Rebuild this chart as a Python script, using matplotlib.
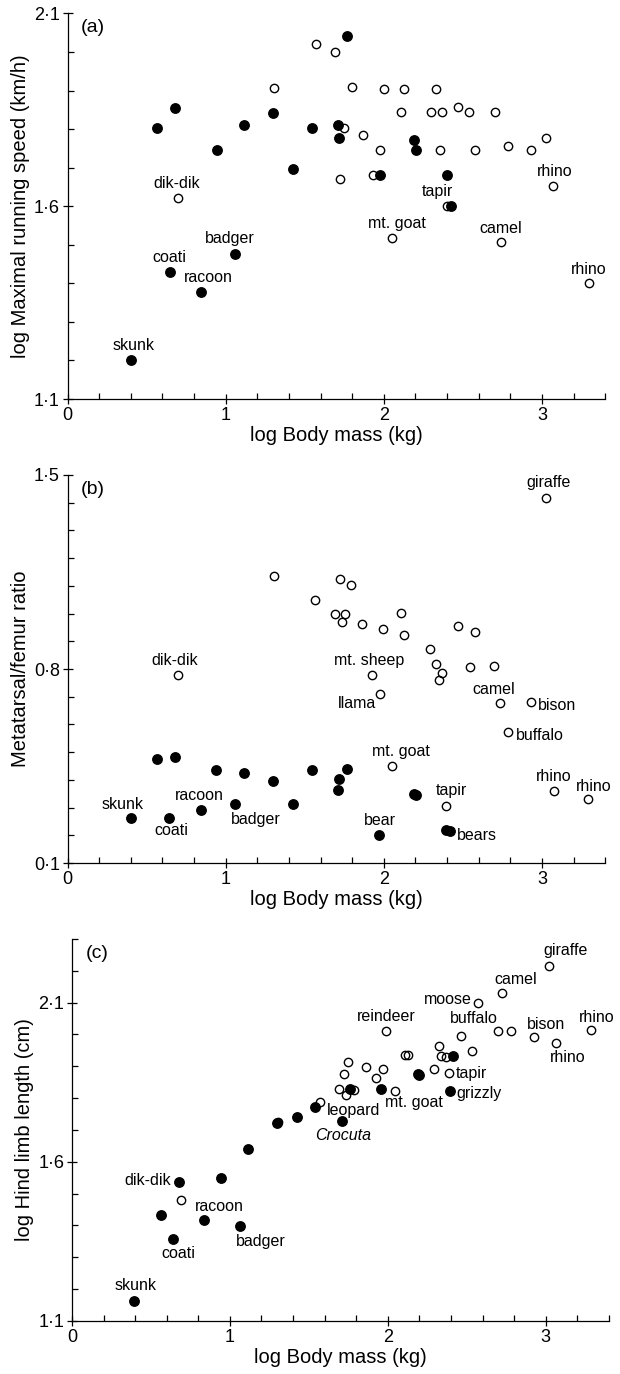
import matplotlib
matplotlib.use('Agg')
import matplotlib.pyplot as plt
from matplotlib.ticker import MultipleLocator, FixedLocator, FuncFormatter

plt.rcParams['font.family'] = ['Liberation Sans', 'DejaVu Sans']

# ---------------- data: panel (a) running speed ----------------
a_fill_x = [0.402, 0.566, 0.645, 0.679, 0.844, 0.943, 1.062, 1.119, 1.299, 1.428,
            1.545, 1.710, 1.719, 1.766, 1.974, 2.190, 2.206, 2.398, 2.425]
a_fill_y = [1.202, 1.804, 1.430, 1.855, 1.378, 1.745, 1.476, 1.810, 1.843, 1.696,
            1.804, 1.811, 1.776, 2.042, 1.681, 1.771, 1.747, 1.681, 1.601]
a_open_x = [0.699, 1.308, 1.572, 1.694, 1.726, 1.748, 1.796, 1.868, 1.929, 1.978,
            1.999, 2.055, 2.111, 2.129, 2.296, 2.330, 2.353, 2.369, 2.398, 2.472,
            2.540, 2.578, 2.702, 2.739, 2.788, 2.933, 3.027, 3.072, 3.298]
a_open_y = [1.622, 1.907, 2.020, 2.000, 1.670, 1.804, 1.908, 1.784, 1.681, 1.747,
            1.903, 1.518, 1.845, 1.903, 1.845, 1.903, 1.747, 1.845, 1.601, 1.858,
            1.845, 1.747, 1.845, 1.506, 1.757, 1.747, 1.778, 1.653, 1.400]
a_labels = ['skunk', 'coati', 'racoon', 'badger', 'dik-dik', 'mt. goat', 'tapir',
            'camel', 'rhino', 'rhino']
a_label_set = ['f', 'f', 'f', 'f', 'o', 'o', 'o', 'o', 'o', 'o']
a_label_idx = [0, 2, 4, 6, 0, 11, 18, 23, 27, 28]

# ---------------- data: panel (b) metatarsal/femur ----------------
b_fill_x = [0.399, 0.563, 0.644, 0.680, 0.845, 0.941, 1.059, 1.119, 1.297, 1.423,
            1.545, 1.712, 1.716, 1.766, 1.968, 2.189, 2.205, 2.394, 2.421]
b_fill_y = [0.264, 0.474, 0.264, 0.482, 0.293, 0.436, 0.313, 0.426, 0.395, 0.313,
            0.437, 0.363, 0.402, 0.438, 0.201, 0.348, 0.345, 0.220, 0.214]
b_open_x = [0.696, 1.304, 1.568, 1.694, 1.721, 1.734, 1.752, 1.791, 1.865, 1.926,
            1.977, 1.995, 2.054, 2.108, 2.128, 2.295, 2.329, 2.351, 2.369, 2.392,
            2.471, 2.543, 2.577, 2.700, 2.736, 2.786, 2.932, 3.023, 3.074, 3.293]
b_open_y = [0.779, 1.137, 1.049, 0.999, 1.126, 0.970, 0.999, 1.103, 0.962, 0.779,
            0.708, 0.945, 0.449, 1.002, 0.923, 0.871, 0.818, 0.759, 0.784, 0.307,
            0.956, 0.806, 0.932, 0.812, 0.679, 0.571, 0.681, 1.417, 0.361, 0.330]
b_labels = ['skunk', 'coati', 'racoon', 'badger', 'bear', 'bears', 'dik-dik',
            'mt. sheep', 'llama', 'mt. goat', 'tapir', 'camel', 'buffalo', 'bison',
            'giraffe', 'rhino', 'rhino']
b_label_set = ['f', 'f', 'f', 'f', 'f', 'f', 'o', 'o', 'o', 'o', 'o', 'o', 'o', 'o',
               'o', 'o', 'o']
b_label_idx = [0, 2, 4, 6, 14, 18, 0, 9, 10, 12, 19, 24, 25, 26, 27, 28, 29]

# ---------------- data: panel (c) hind limb length ----------------
c_fill_x = [0.396, 0.565, 0.641, 0.677, 0.839, 0.941, 1.062, 1.118, 1.298, 1.424,
            1.541, 1.710, 1.762, 1.960, 2.189, 2.201, 2.392, 2.410]
c_fill_y = [1.164, 1.433, 1.358, 1.538, 1.417, 1.549, 1.399, 1.640, 1.721, 1.740,
            1.773, 1.727, 1.828, 1.830, 1.877, 1.872, 1.821, 1.932]
c_open_x = [0.693, 1.305, 1.571, 1.694, 1.721, 1.735, 1.751, 1.789, 1.863, 1.924,
            1.969, 1.991, 2.048, 2.111, 2.126, 2.291, 2.324, 2.340, 2.369, 2.388,
            2.466, 2.534, 2.572, 2.698, 2.725, 2.779, 2.923, 3.018, 3.067, 3.285]
c_open_y = [1.481, 1.725, 1.789, 1.828, 1.875, 1.810, 1.914, 1.825, 1.899, 1.862,
            1.893, 2.011, 1.823, 1.936, 1.936, 1.893, 1.964, 1.932, 1.930, 1.878,
            1.995, 1.949, 2.100, 2.011, 2.131, 2.011, 1.993, 2.215, 1.974, 2.013]
c_labels = ['skunk', 'coati', 'dik-dik', 'racoon', 'badger', 'leopard', 'Crocuta',
            'grizzly', 'reindeer', 'mt. goat', 'tapir', 'buffalo', 'moose', 'camel',
            'bison', 'giraffe', 'rhino', 'rhino']
c_label_set = ['f', 'f', 'f', 'f', 'f', 'f', 'f', 'f', 'o', 'o', 'o', 'o', 'o', 'o',
               'o', 'o', 'o', 'o']
c_label_idx = [0, 2, 3, 4, 6, 10, 11, 16, 11, 12, 19, 20, 22, 24, 26, 27, 28, 29]

# ---------------- label placement (offsets in points, alignment) ----------------
a_offsets = [(2, 10.5), (0, 10.5), (5.5, 10.5), (-4, 11), (-1, 10), (3, 10.5),
             (-7, 10.5), (0, 10), (1, 10), (0, 10)]
a_ha = ['center'] * 10
b_offsets = [(-6, 9.5), (1.5, -9.5), (-1, 10), (15, -11.5), (1, 10.5), (5, -3),
             (-2, 10), (-2, 10), (-3, -6.5), (6, 11), (4, 11), (-4.5, 9.5),
             (5.5, -2.5), (5, -2.5), (2.5, 11.5), (0, 10), (4, 9.5)]
b_ha = ['center'] * 5 + ['left'] + ['center'] * 2 + ['right'] + ['center'] * 3 + \
       ['left', 'left'] + ['center'] * 3
c_offsets = [(0.5, 11), (4, -10.5), (-5.5, 1), (11, 9.5), (15, -11), (8.5, -2.5),
             (1, -10.5), (5, -1.5), (0, 10.5), (13.5, -8.5), (5, 0), (9, 12.5), (-4.5, 2.5),
             (10, 9.5), (9, 8.5), (12.5, 11.5), (8, -10.5), (4, 9.5)]
c_ha = ['center', 'center', 'right', 'center', 'center', 'left', 'center', 'left',
        'center', 'center', 'left', 'center', 'right', 'center', 'center', 'center',
        'center', 'center']


def dotfmt(v, p):
    return f'{v:.1f}'.replace('.', '\u00b7')


def style_axes(ax, ylim, ymajor, ylabel, tag):
    ax.set_xlim(0, 3.4)
    ax.set_ylim(*ylim)
    for s in ['top', 'right']:
        ax.spines[s].set_visible(False)
    for s in ['left', 'bottom']:
        ax.spines[s].set_linewidth(0.9)
    ax.xaxis.set_major_locator(FixedLocator([0, 1, 2, 3]))
    ax.xaxis.set_minor_locator(MultipleLocator(0.2))
    ax.xaxis.set_major_formatter(FuncFormatter(lambda v, p: f'{v:.0f}'))
    ax.yaxis.set_major_locator(FixedLocator(ymajor))
    ax.yaxis.set_minor_locator(MultipleLocator(0.1))
    ax.yaxis.set_major_formatter(FuncFormatter(dotfmt))
    ax.tick_params(which='major', direction='inout', length=7, width=0.9,
                   labelsize=13, pad=2)
    ax.tick_params(which='minor', direction='in', length=4, width=0.9)
    ax.set_xlabel('log Body mass (kg)', fontsize=14.5, labelpad=2)
    ax.set_ylabel(ylabel, fontsize=14.5, labelpad=3)
    ax.text(0.025, 0.985, tag, transform=ax.transAxes, ha='left', va='top',
            fontsize=14)


def draw(ax, fx, fy, ox, oy, names, sets, idxs, offs, has):
    ax.plot(ox, oy, linestyle='none', marker='o', markersize=6,
            markerfacecolor='none', markeredgecolor='black', markeredgewidth=1.0,
            clip_on=False)
    ax.plot(fx, fy, linestyle='none', marker='o', markersize=6.8,
            markerfacecolor='black', markeredgecolor='black', clip_on=False)
    for name, s, i, (dx, dy), ha in zip(names, sets, idxs, offs, has):
        px, py = (fx[i], fy[i]) if s == 'f' else (ox[i], oy[i])
        ax.annotate(name, (px, py), xytext=(dx, dy), textcoords='offset points',
                    ha=ha, va='center', fontsize=11.5,
                    fontstyle='italic' if name == 'Crocuta' else 'normal')


fig = plt.figure(figsize=(6.2, 13.74), dpi=100)
axa = fig.add_axes([0.109, 0.7096, 0.867, 0.2806])
axb = fig.add_axes([0.109, 0.3719, 0.867, 0.2824])
axc = fig.add_axes([0.116, 0.0386, 0.866, 0.2780])

style_axes(axa, (1.1, 2.1), [1.1, 1.6, 2.1], 'log Maximal running speed (km/h)', '(a)')
style_axes(axb, (0.1, 1.5), [0.1, 0.8, 1.5], 'Metatarsal/femur ratio', '(b)')
style_axes(axc, (1.1, 2.3), [1.1, 1.6, 2.1], 'log Hind limb length (cm)', '(c)')

draw(axa, a_fill_x, a_fill_y, a_open_x, a_open_y, a_labels, a_label_set, a_label_idx,
     a_offsets, a_ha)
draw(axb, b_fill_x, b_fill_y, b_open_x, b_open_y, b_labels, b_label_set, b_label_idx,
     b_offsets, b_ha)
draw(axc, c_fill_x, c_fill_y, c_open_x, c_open_y, c_labels, c_label_set, c_label_idx,
     c_offsets, c_ha)

fig.savefig('out.png', dpi=100)
